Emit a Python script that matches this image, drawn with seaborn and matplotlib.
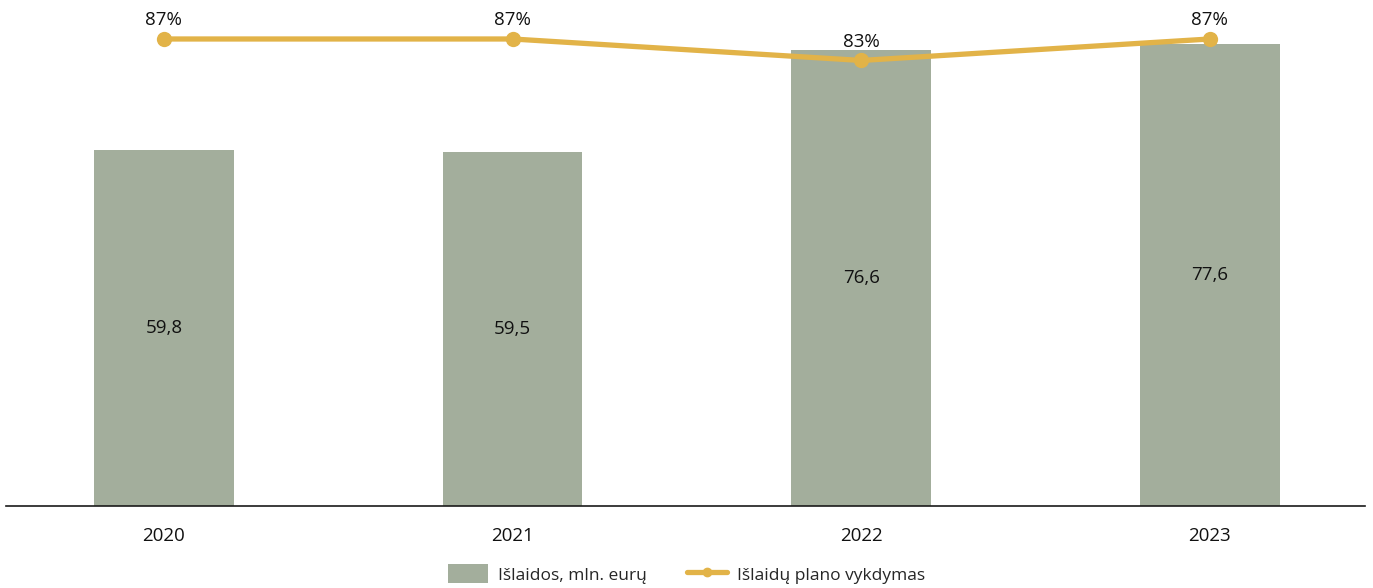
import matplotlib
matplotlib.use("Agg")
import matplotlib.pyplot as plt
import seaborn as sns
import pandas as pd
from matplotlib.patches import Patch
from matplotlib.lines import Line2D

years = ["2020", "2021", "2022", "2023"]
spending = [59.8, 59.5, 76.6, 77.6]
spending_labels = ["59,8", "59,5", "76,6", "77,6"]
execution = [87, 87, 83, 87]
execution_labels = ["87%", "87%", "83%", "87%"]

bar_color = "#A3AE9C"
line_color = "#E2B348"
text_color = "#111111"

sns.set_theme(style="white")
plt.rcParams["font.family"] = ["Open Sans", "DejaVu Sans"]

df = pd.DataFrame({"year": years, "spending": spending, "execution": execution})

fig = plt.figure(figsize=(13.73, 5.88), dpi=100)
ax = fig.add_axes([6/1373, 1-506/588, (1365-6)/1373, (506-10)/588])

sns.barplot(data=df, x="year", y="spending", color=bar_color, width=0.4,
            saturation=1, linewidth=0, ax=ax)
ax.set_xlim(-0.453, 3.445)
ax.set_ylim(0, 83.4)
for i, (v, lab) in enumerate(zip(spending, spending_labels)):
    ax.text(i, v/2, lab, ha="center", va="center", fontsize=13.5, color=text_color)

ax.set_xlabel("")
ax.set_ylabel("")
ax.set_yticks([])
ax.tick_params(axis="x", length=0, labelsize=13.5, pad=15, colors=text_color)
for s in ["top", "right", "left"]:
    ax.spines[s].set_visible(False)
ax.spines["bottom"].set_color("#1a1a1a")
ax.spines["bottom"].set_linewidth(1.2)

ax2 = ax.twinx()
xs = list(range(len(years)))
sns.lineplot(x=xs, y=execution, ax=ax2, color=line_color, linewidth=3.8,
             marker="o", markersize=11, markeredgewidth=0, legend=False)
ax2.set_ylim(0, 92.4)
ax2.set_yticks([])
for s in ["top", "right", "left", "bottom"]:
    ax2.spines[s].set_visible(False)
for i, (v, lab) in enumerate(zip(execution, execution_labels)):
    ax2.annotate(lab, (i, v), xytext=(0, 7), textcoords="offset points",
                 ha="center", va="bottom", fontsize=13.5, color=text_color)
ax2.set_xlim(-0.453, 3.445)

handles = [Patch(facecolor=bar_color, edgecolor="none"),
           Line2D([0], [0], color=line_color, lw=3.8, marker="o", markersize=6)]
fig.legend(handles, ["Išlaidos, mln. eurų", "Išlaidų plano vykdymas"],
           loc="center", bbox_to_anchor=(0.5, 0.024), ncol=2, frameon=False,
           fontsize=12.5, handlelength=2.3, handleheight=1.3, columnspacing=2.3,
           handletextpad=0.6)

fig.savefig("out.png", dpi=100)
